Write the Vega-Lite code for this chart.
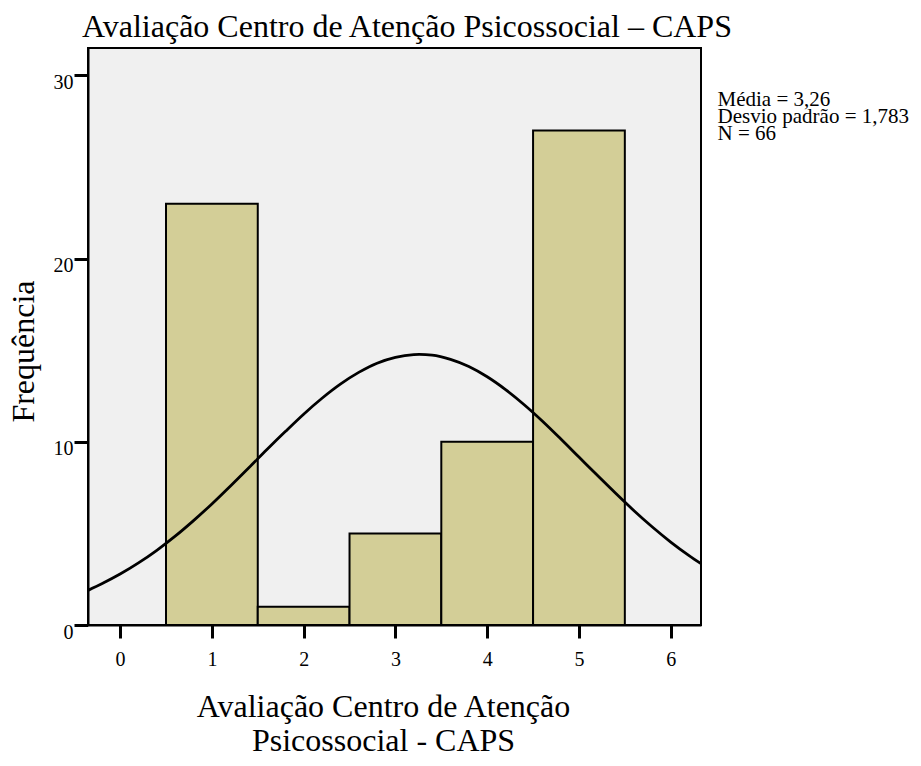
{
  "$schema": "https://vega.github.io/schema/vega-lite/v6.json",
  "autosize": "none",
  "padding": {"left": 88, "top": 48, "right": 220, "bottom": 141},
  "width": 613,
  "height": 577,
  "background": "white",
  "title": {
    "text": "Avaliação Centro de Atenção Psicossocial – CAPS",
    "anchor": "start",
    "frame": "group",
    "font": "Liberation Serif",
    "fontSize": 32,
    "fontWeight": "normal",
    "color": "black",
    "baseline": "alphabetic",
    "offset": 11,
    "dx": -6,
    "dy": 32
  },
  "config": {
    "view": {"fill": "#f0f0f0", "stroke": "black", "strokeWidth": 2},
    "axis": {
      "labelFont": "Liberation Serif",
      "labelFontSize": 20,
      "labelColor": "black",
      "titleFont": "Liberation Serif",
      "titleFontSize": 32,
      "titleFontWeight": "normal",
      "titleColor": "black",
      "tickColor": "black",
      "tickWidth": 3,
      "domainColor": "black",
      "domainWidth": 2,
      "grid": false
    }
  },
  "datasets": {
    "bars": [
      {"valor": 1, "inicio": 0.5, "fim": 1.5, "frequencia": 23},
      {"valor": 2, "inicio": 1.5, "fim": 2.5, "frequencia": 1},
      {"valor": 3, "inicio": 2.5, "fim": 3.5, "frequencia": 5},
      {"valor": 4, "inicio": 3.5, "fim": 4.5, "frequencia": 10},
      {"valor": 5, "inicio": 4.5, "fim": 5.5, "frequencia": 27}
    ],
    "curve": [
      {"x": -0.35, "y": 1.89},
      {"x": -0.2, "y": 2.25},
      {"x": 0.0, "y": 2.78},
      {"x": 0.2, "y": 3.39},
      {"x": 0.4, "y": 4.08},
      {"x": 0.6, "y": 4.85},
      {"x": 0.8, "y": 5.70},
      {"x": 1.0, "y": 6.61},
      {"x": 1.2, "y": 7.58},
      {"x": 1.4, "y": 8.57},
      {"x": 1.6, "y": 9.58},
      {"x": 1.8, "y": 10.56},
      {"x": 2.0, "y": 11.51},
      {"x": 2.2, "y": 12.38},
      {"x": 2.4, "y": 13.15},
      {"x": 2.6, "y": 13.79},
      {"x": 2.8, "y": 14.29},
      {"x": 3.0, "y": 14.61},
      {"x": 3.2, "y": 14.76},
      {"x": 3.26, "y": 14.77},
      {"x": 3.4, "y": 14.73},
      {"x": 3.6, "y": 14.50},
      {"x": 3.8, "y": 14.11},
      {"x": 4.0, "y": 13.55},
      {"x": 4.2, "y": 12.85},
      {"x": 4.4, "y": 12.04},
      {"x": 4.6, "y": 11.14},
      {"x": 4.8, "y": 10.17},
      {"x": 5.0, "y": 9.17},
      {"x": 5.2, "y": 8.17},
      {"x": 5.4, "y": 7.19},
      {"x": 5.6, "y": 6.24},
      {"x": 5.8, "y": 5.35},
      {"x": 6.0, "y": 4.53},
      {"x": 6.2, "y": 3.79},
      {"x": 6.33, "y": 3.35}
    ]
  },
  "layer": [
    {
      "data": {"name": "bars"},
      "mark": {"type": "bar", "fill": "#d3ce97", "stroke": "black", "strokeWidth": 2},
      "encoding": {
        "x": {
          "field": "inicio",
          "type": "quantitative",
          "scale": {"domain": [-0.35, 6.33], "nice": false, "zero": false},
          "axis": {
            "values": [0, 1, 2, 3, 4, 5, 6],
            "format": "d",
            "tickSize": 13,
            "labelPadding": 11,
            "labelBaseline": "top",
            "title": ["Avaliação Centro de Atenção", "Psicossocial - CAPS"],
            "titleX": 295,
            "titleY": 91,
            "titleAlign": "center",
            "titleBaseline": "alphabetic",
            "titleLineHeight": 34
          }
        },
        "x2": {"field": "fim"},
        "y": {
          "field": "frequencia",
          "type": "quantitative",
          "scale": {"domain": [0, 31.5], "nice": false},
          "axis": {
            "values": [0, 10, 20, 30],
            "tickSize": 14,
            "labelPadding": 1,
            "labelBaseline": "top",
            "labelOffset": -3,
            "title": "Frequência",
            "titleX": -55,
            "titleY": 303,
            "titleAngle": -90,
            "titleAlign": "center",
            "titleBaseline": "alphabetic"
          }
        },
        "y2": {"datum": 0}
      }
    },
    {
      "data": {"name": "curve"},
      "mark": {"type": "line", "color": "black", "strokeWidth": 2.8, "interpolate": "monotone", "clip": true},
      "encoding": {
        "x": {"field": "x", "type": "quantitative"},
        "y": {"field": "y", "type": "quantitative"}
      }
    },
    {
      "data": {"values": [{"estatisticas": ["Média = 3,26", "Desvio padrão = 1,783", "N = 66"]}]},
      "mark": {
        "type": "text",
        "font": "Liberation Serif",
        "fontSize": 21,
        "lineHeight": 17,
        "align": "left",
        "baseline": "top",
        "color": "black"
      },
      "encoding": {
        "x": {"datum": 6.51, "type": "quantitative"},
        "y": {"datum": 29.24, "type": "quantitative"},
        "text": {"field": "estatisticas"}
      }
    }
  ]
}
